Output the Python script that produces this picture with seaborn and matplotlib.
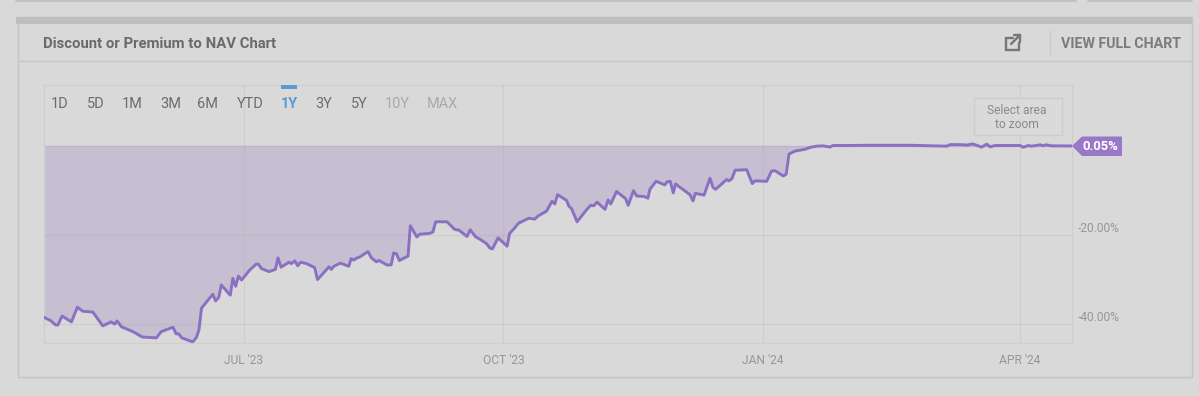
import matplotlib
matplotlib.use("Agg")
import matplotlib.pyplot as plt
from matplotlib.patches import Rectangle, Polygon
import pandas as pd
import seaborn as sns

# ---- data ----
start_date = "2023-04-21"
days_from_start = [
    0, 2.7, 4.3, 5.1, 6.6, 9.9, 12.0, 13.9, 17.5, 21.0, 24.0, 25.2, 26.1, 27.6, 31.7, 35.0, 40.0, 41.7, 45.9, 47.0,
    47.9, 49.0, 52.9, 54.2, 55.1, 56.0, 60.0, 61.0, 62.1, 63.0, 66.2, 67.1, 68.1, 69.1, 70.2, 73.0, 75.2, 76.1, 77.2, 79.9,
    82.2, 83.1, 84.2, 87.0, 87.8, 89.1, 90.1, 91.1, 93.2, 96.1, 97.1, 101.2, 102.0, 102.9, 105.2, 108.2, 109.0, 110.0, 110.9, 112.1,
    115.0, 116.2, 118.0, 118.9, 121.7, 123.2, 124.1, 125.1, 126.1, 129.2, 130.0, 132.3, 133.3, 136.9, 138.0, 139.0, 143.0, 145.7, 147.3, 150.1,
    151.2, 153.2, 154.6, 157.0, 158.2, 159.1, 161.1, 164.3, 165.2, 166.4, 168.4, 172.0, 174.1, 175.3, 178.3, 180.2, 181.2, 182.2, 185.4, 186.2,
    187.1, 189.1, 192.2, 193.9, 195.0, 196.2, 199.0, 200.1, 201.0, 203.1, 206.3, 207.2, 209.1, 210.2, 212.8, 214.2, 214.9, 217.1, 220.2, 221.0,
    222.1, 223.2, 224.0, 229.1, 230.2, 231.0, 234.1, 236.2, 237.3, 238.2, 242.1, 242.9, 244.0, 245.1, 249.2, 251.2, 252.1, 256.3, 258.0, 259.2,
    262.2, 263.2, 264.2, 266.3, 269.9, 271.6, 274.0, 276.3, 278.7, 279.8, 284.6, 291.7, 307.1,
    320.1, 321.3, 324.8, 327.2, 329.3, 332.5, 334.3, 335.5, 337.2, 346.1, 347.2, 349.0, 350.2, 353.2, 354.3, 355.3, 357.3, 364.5,
]
premium_pct = [
    -38.4, -39.3, -40.2, -40.2, -38.2, -39.5, -36.2, -37.1, -37.3, -40.4, -39.5, -40.0, -39.3, -40.6, -41.7, -42.9, -43.1, -41.7, -40.7, -42.2,
    -42.2, -43.1, -44.0, -43.0, -41.3, -36.4, -33.3, -34.8, -34.0, -31.2, -33.5, -29.7, -31.5, -29.2, -30.1, -27.9, -26.6, -26.5, -27.5, -28.2,
    -27.7, -25.1, -27.2, -26.1, -26.4, -25.8, -26.9, -26.1, -26.4, -27.3, -30.0, -27.1, -27.7, -27.0, -26.3, -27.0, -25.3, -25.6, -25.2, -24.9,
    -23.7, -25.1, -26.0, -25.7, -26.7, -26.7, -24.0, -24.2, -25.7, -24.7, -17.9, -20.4, -19.8, -19.6, -19.3, -17.0, -17.0, -18.7, -18.9, -20.3,
    -18.8, -20.4, -20.9, -21.9, -22.9, -23.1, -20.6, -22.5, -19.6, -18.8, -17.3, -16.2, -16.4, -15.7, -14.6, -12.4, -13.0, -10.9, -12.2, -13.5,
    -14.0, -17.0, -14.5, -13.3, -13.4, -12.6, -14.2, -12.1, -13.0, -10.2, -11.8, -13.3, -10.0, -11.2, -11.3, -11.7, -9.7, -7.9, -8.7, -8.0,
    -7.9, -10.5, -8.5, -10.9, -12.3, -10.6, -11.0, -7.2, -9.3, -9.7, -7.5, -7.8, -7.3, -5.4, -5.3, -8.4, -7.8, -7.9, -5.6, -5.5,
    -6.7, -6.3, -1.8, -1.1, -0.7, -0.3, 0.0, 0.07, -0.2, 0.15, 0.15, 0.2, 0.2,
    0.0, 0.35, 0.35, 0.25, 0.5, -0.2, 0.45, -0.15, 0.15, 0.15, -0.25, 0.15, 0.0, 0.3, 0.1, 0.3, 0.07, 0.05,
]
x_tick_dates = ["2023-07-01", "2023-10-01", "2024-01-01", "2024-04-01"]
x_tick_labels = ["JUL '23", "OCT '23", "JAN '24", "APR '24"]
y_tick_values = [-20, -40]
y_tick_labels = ["-20.00%", "-40.00%"]
fill_baseline = 0.05
last_label = "0.05%"
title = "Discount or Premium to NAV Chart"
full_chart = "VIEW FULL CHART"
range_buttons = ["1D", "5D", "1M", "3M", "6M", "YTD", "1Y", "3Y", "5Y", "10Y", "MAX"]
button_status = ["on", "on", "on", "on", "on", "on", "sel", "on", "on", "off", "off"]

# ---- style / layout ----
W, H = 1199, 396
BG, LINE, FILL = "#d9d9d9", "#8a70c2", "#c6bfd2"
sns.set_theme(style="white")
plt.rcParams["font.family"] = ["Roboto", "DejaVu Sans"]
px = lambda v: v * 72 / 100  # px -> pt at dpi 100

df = pd.DataFrame({
    "date": pd.to_datetime(start_date) + pd.to_timedelta(days_from_start, unit="D"),
    "premium": premium_pct,
})

fig = plt.figure(figsize=(W / 100, H / 100), dpi=100, facecolor=BG)

# chrome underneath
bg = fig.add_axes([0, 0, 1, 1], zorder=0)
bg.set_xlim(0, W); bg.set_ylim(H, 0); bg.axis("off")
bg.add_patch(Rectangle((17.5, 17), 1174.5, 360, fc=BG, ec="#c4c4c4", lw=1))
bg.add_patch(Rectangle((16, 17), 1176, 7, fc="#bfbfbf", ec="none"))
bg.plot([18, 1192], [60.5, 60.5], color="#c6c6c6", lw=1)
bg.plot([16, 1076], [0.5, 0.5], color="#bdbdbd", lw=1.2)
bg.plot([1088, 1192], [0.5, 0.5], color="#bdbdbd", lw=1.2)
bg.plot([1049.5, 1049.5], [30, 54], color="#cbcbcb", lw=1)

# main chart
L, R, T, B = 43.5, 1072, 85, 343
ax = fig.add_axes([L / W, 1 - B / H, (R - L) / W, (B - T) / H], zorder=1)
ax.patch.set_alpha(0)
ax.fill_between(df["date"], df["premium"], fill_baseline, color=FILL, lw=0, zorder=1)
ax.axhline(fill_baseline, color="#bdb4cb", lw=1, zorder=1.5)
sns.lineplot(data=df, x="date", y="premium", ax=ax, color=LINE, lw=2.1, zorder=3)
ax.set_xlim(pd.Timestamp(start_date), pd.Timestamp(start_date) + pd.Timedelta(days=364.5))
ax.set_ylim(-44.25, 13.75)
ax.set_xticks(pd.to_datetime(x_tick_dates), x_tick_labels)
ax.set_yticks(y_tick_values, y_tick_labels)
ax.yaxis.tick_right()
ax.set_xlabel(""); ax.set_ylabel("")
ax.grid(True, color="#9c9c9c", lw=1, alpha=0.16, zorder=2)
ax.set_axisbelow(False)
ax.tick_params(axis="both", length=0, labelsize=px(12), labelcolor="#969696")
ax.tick_params(axis="x", pad=px(11))
ax.tick_params(axis="y", pad=px(6))
for lab in ax.get_yticklabels():
    lab.set_verticalalignment("bottom")
for s in ax.spines.values():
    s.set_color("#cfcfcf"); s.set_linewidth(1)
    s.set_visible(True)

# overlay: header, buttons, badge
ov = fig.add_axes([0, 0, 1, 1], zorder=2)
ov.set_xlim(0, W); ov.set_ylim(H, 0); ov.axis("off"); ov.patch.set_alpha(0)
ov.text(43, 43.5, title, fontsize=px(14.9), fontweight="bold", color="#6a6a6a", va="center", ha="left")
ov.text(1181, 43.5, full_chart, fontsize=px(14.2), fontweight="bold", color="#7c7c7c", va="center", ha="right")

# link icon
ov.plot([1013, 1006, 1006, 1019, 1019], [38, 38, 49.5, 49.5, 43], color="#777777", lw=1.7, solid_joinstyle="miter")
ov.plot([1011, 1020], [44, 35], color="#777777", lw=1.7)
ov.plot([1013.5, 1020, 1020], [35, 35, 41.5], color="#777777", lw=1.7, solid_joinstyle="miter")

btn_x = [60, 96, 132, 171, 208, 250, 289, 324, 359, 397, 442]
btn_col = {"on": "#6c6c6c", "sel": "#5a9bd4", "off": "#a9a9a9"}
for x, lab, st in zip(btn_x, range_buttons, button_status):
    ov.text(x, 104, lab, fontsize=px(14.5), color=btn_col[st], ha="center", va="center",
            fontweight="bold" if st == "sel" else "normal")
ov.add_patch(Rectangle((281, 85), 16, 3.5, fc="#5a9bd4", ec="none"))

ov.add_patch(Rectangle((973.5, 97.5), 88, 37, fc="#dadada", ec="#cccccc", lw=1))
ov.text(1017, 110.5, "Select area", fontsize=px(12), color="#8a8a8a", ha="center", va="center")
ov.text(1017, 124.5, "to zoom", fontsize=px(12), color="#8a8a8a", ha="center", va="center")

ov.add_patch(Polygon([(1072, 146), (1082, 136.5), (1122, 136.5), (1122, 156), (1082, 156)], fc="#9a78c8", ec="none"))
ov.text(1100, 146.5, last_label, fontsize=px(13), fontweight="bold", color="white", ha="center", va="center")

fig.savefig("out.png", dpi=100, facecolor=BG)
